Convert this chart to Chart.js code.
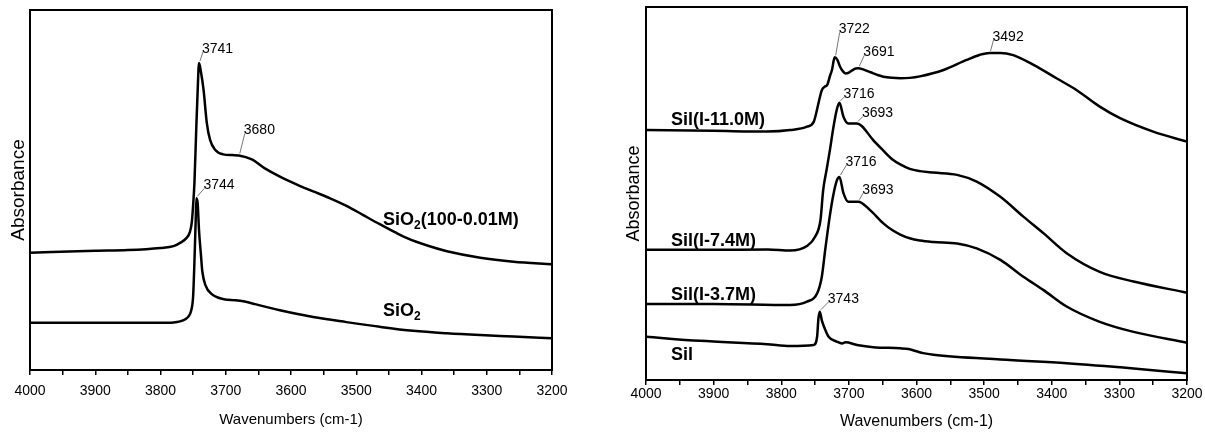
<!DOCTYPE html>
<html>
<head>
<meta charset="utf-8">
<script src="https://cdn.jsdelivr.net/npm/chart.js@4.4.0/dist/chart.umd.min.js"></script>
<style>
  html, body { margin: 0; padding: 0; background: #fff; }
  #wrap { position: relative; width: 1205px; height: 437px; }
  canvas { position: absolute; top: 0; }
  #leftChart { left: 0; }
  #rightChart { left: 600px; }
</style>
</head>
<body>
<div id="wrap">
  <canvas id="leftChart" width="600" height="437"></canvas>
  <canvas id="rightChart" width="605" height="437"></canvas>
</div>
<script>
/* ================= DATA (left panel) ================= */

const sio2ModWn = [4000, 3900, 3850, 3800, 3780, 3770, 3760, 3755, 3752, 3750, 3748, 3745, 3743, 3741, 3738, 3734, 3729, 3724, 3716, 3704, 3690, 3680, 3660, 3640, 3617, 3586, 3566, 3540, 3515, 3490, 3464, 3440, 3423, 3390, 3361, 3310, 3259, 3200];
const sio2ModAbs = [0.326, 0.331, 0.333, 0.339, 0.344, 0.353, 0.367, 0.383, 0.411, 0.458, 0.519, 0.681, 0.778, 0.853, 0.828, 0.778, 0.686, 0.639, 0.611, 0.599, 0.597, 0.596, 0.585, 0.560, 0.537, 0.511, 0.496, 0.477, 0.456, 0.431, 0.405, 0.382, 0.367, 0.345, 0.330, 0.312, 0.301, 0.294];

const sio2Wn = [4000, 3900, 3800, 3780, 3770, 3762, 3757, 3753, 3750, 3748, 3746, 3745, 3743, 3741, 3738, 3736, 3731, 3721, 3710, 3701, 3685, 3671, 3655, 3640, 3617, 3586, 3566, 3515, 3464, 3413, 3361, 3310, 3259, 3200];
const sio2Abs = [0.131, 0.131, 0.131, 0.132, 0.135, 0.141, 0.149, 0.165, 0.205, 0.300, 0.420, 0.477, 0.462, 0.389, 0.319, 0.275, 0.235, 0.210, 0.200, 0.196, 0.194, 0.190, 0.183, 0.176, 0.166, 0.154, 0.147, 0.133, 0.120, 0.109, 0.102, 0.097, 0.093, 0.088];

const leftLabelText = [["SiO", "2", "(100-0.01M)"], ["SiO", "2"]];
const leftLabelWn = [3459, 3459];
const leftLabelAbs = [0.417, 0.164];

const leftPeakWn = [3741, 3680, 3744];
const leftPeakSeries = [0, 0, 1];

/* ================= DATA (right panel) ================= */

const sil11Wn = [4000, 3900, 3821, 3787, 3762, 3752, 3748, 3745, 3740, 3736, 3732, 3728, 3725, 3721, 3717, 3713, 3709, 3705, 3700, 3696, 3690, 3686, 3678, 3668, 3658, 3649, 3636, 3624, 3610, 3595, 3560, 3526, 3506, 3492, 3476, 3457, 3427, 3393, 3363, 3329, 3299, 3250, 3200];
const sil11Abs = [0.670, 0.668, 0.666, 0.670, 0.679, 0.692, 0.718, 0.742, 0.777, 0.786, 0.791, 0.815, 0.831, 0.865, 0.858, 0.840, 0.828, 0.822, 0.824, 0.829, 0.835, 0.836, 0.832, 0.825, 0.818, 0.813, 0.810, 0.809, 0.810, 0.814, 0.831, 0.858, 0.872, 0.877, 0.877, 0.871, 0.845, 0.809, 0.777, 0.733, 0.702, 0.666, 0.639];

const sil74Wn = [4000, 3900, 3820, 3787, 3762, 3750, 3742, 3738, 3733, 3728, 3723, 3718, 3714, 3708, 3701, 3688, 3681, 3664, 3649, 3636, 3624, 3610, 3595, 3575, 3540, 3511, 3476, 3442, 3412, 3378, 3329, 3279, 3200];
const sil74Abs = [0.349, 0.349, 0.350, 0.347, 0.359, 0.384, 0.429, 0.509, 0.563, 0.617, 0.676, 0.724, 0.743, 0.706, 0.688, 0.688, 0.681, 0.643, 0.615, 0.592, 0.578, 0.566, 0.560, 0.556, 0.550, 0.532, 0.491, 0.438, 0.393, 0.340, 0.290, 0.264, 0.234];

const sil37Wn = [4000, 3900, 3787, 3762, 3747, 3740, 3735, 3728, 3723, 3718, 3714, 3708, 3701, 3686, 3669, 3649, 3636, 3624, 3610, 3595, 3575, 3540, 3511, 3476, 3442, 3412, 3378, 3329, 3279, 3200];
const sil37Abs = [0.204, 0.204, 0.201, 0.210, 0.232, 0.277, 0.349, 0.442, 0.496, 0.534, 0.544, 0.501, 0.478, 0.478, 0.456, 0.420, 0.402, 0.390, 0.380, 0.374, 0.370, 0.366, 0.353, 0.322, 0.277, 0.241, 0.197, 0.156, 0.129, 0.100];

const silWn = [4000, 3920, 3821, 3787, 3752, 3747, 3745, 3743, 3740, 3735, 3730, 3718, 3710, 3705, 3688, 3664, 3624, 3612, 3600, 3590, 3575, 3476, 3378, 3279, 3200];
const silAbs = [0.116, 0.105, 0.096, 0.091, 0.094, 0.116, 0.165, 0.183, 0.160, 0.135, 0.116, 0.103, 0.098, 0.101, 0.094, 0.088, 0.085, 0.083, 0.077, 0.072, 0.068, 0.055, 0.045, 0.031, 0.018];

const rightLabelText = [["Sil(I-11.0M)"], ["Sil(I-7.4M)"], ["Sil(I-3.7M)"], ["Sil"]];
const rightLabelWn = [3963, 3963, 3963, 3963];
const rightLabelAbs = [0.697, 0.373, 0.229, 0.066];

const rightPeakWn = [3722, 3691, 3492, 3716, 3693, 3716, 3693, 3743];
const rightPeakSeries = [0, 0, 0, 1, 1, 2, 2, 3];

/* ================= STYLE ================= */

const FONT = '"Liberation Sans", Arial, sans-serif';
Chart.defaults.font.family = FONT;
Chart.defaults.color = "#000";

// offset of each peak label from its peak (px)
const leftPeakOffsets = [[4, -11], [6, -22], [8, -10]];
const rightPeakOffsets = [[5, -25], [6, -13], [4, -13], [5, -6], [6, -7], [7, -12], [5, -9], [9, -10]];

function toPoints(wn, abs) {
    return wn.map((w, i) => ({ x: w, y: abs[i] }));
}

// point of a series nearest to a given wavenumber (highest one when several are close)
function pickPeak(pts, wn) {
    const near = pts.filter(p => Math.abs(p.x - wn) <= 5);
    if (near.length) return near.reduce((a, b) => (b.y > a.y ? b : a));
    return pts.reduce((a, b) => (Math.abs(b.x - wn) < Math.abs(a.x - wn) ? b : a));
}

/* ================= PLUGINS ================= */

const frameBox = {
    id: "frameBox",
    afterDatasetsDraw(chart) {
        const { ctx, chartArea: a } = chart;
        ctx.save();
        ctx.strokeStyle = "#000";
        ctx.lineWidth = 2;
        ctx.strokeRect(a.left, a.top, a.right - a.left, a.bottom - a.top);
        ctx.restore();
    }
};

const peakNotes = {
    id: "peakNotes",
    afterDatasetsDraw(chart, args, opts) {
        const { ctx, scales: { x, y } } = chart;
        ctx.save();
        ctx.font = "14px " + FONT;
        ctx.fillStyle = "#000";
        ctx.strokeStyle = "#555";
        ctx.lineWidth = 0.8;
        ctx.textAlign = "left";
        ctx.textBaseline = "alphabetic";
        opts.wn.forEach((wn, i) => {
            const p = pickPeak(chart.data.datasets[opts.series[i]].data, wn);
            const px = x.getPixelForValue(p.x);
            const py = y.getPixelForValue(p.y);
            const [dx, dy] = opts.offsets[i];
            ctx.beginPath();
            ctx.moveTo(px + 1, py - 2);
            ctx.lineTo(px + dx, py + dy);
            ctx.stroke();
            ctx.fillText(String(wn), px + dx - 1, py + dy + 1);
        });
        ctx.restore();
    }
};

const seriesNames = {
    id: "seriesNames",
    afterDatasetsDraw(chart, args, opts) {
        const { ctx, scales: { x, y } } = chart;
        ctx.save();
        ctx.fillStyle = "#000";
        ctx.textAlign = "left";
        ctx.textBaseline = "middle";
        opts.text.forEach((parts, i) => {
            let px = x.getPixelForValue(opts.wn[i]);
            const py = y.getPixelForValue(opts.abs[i]);
            parts.forEach((part, k) => {
                const sub = k % 2 === 1;
                ctx.font = (sub ? "bold 12px " : "bold 18px ") + FONT;
                ctx.fillText(part, px, sub ? py + 6 : py);
                px += ctx.measureText(part).width;
            });
        });
        ctx.restore();
    }
};

/* ================= CHARTS ================= */

function lineSet(wn, abs) {
    return {
        data: toPoints(wn, abs),
        borderColor: "#000",
        borderWidth: 2.5,
        pointRadius: 0,
        fill: false,
        cubicInterpolationMode: "monotone"
    };
}

function makeChart(id, sets, o) {
    return new Chart(document.getElementById(id), {
        type: "line",
        data: { datasets: sets },
        plugins: [frameBox, peakNotes, seriesNames],
        options: {
            responsive: false,
            animation: false,
            devicePixelRatio: 1,
            layout: { padding: { left: 0, right: o.padRight, top: o.padTop, bottom: 0 } },
            scales: {
                x: {
                    type: "linear",
                    min: 3200,
                    max: 4000,
                    reverse: true,
                    ticks: {
                        stepSize: 50,
                        autoSkip: false,
                        maxRotation: 0,
                        padding: o.tickPad,
                        font: { size: 14 },
                        callback: v => (v % 100 === 0 ? String(v) : "")
                    },
                    grid: { drawOnChartArea: false, drawTicks: true, tickLength: 5, color: "#000", lineWidth: 1.5 },
                    border: { display: false },
                    title: {
                        display: true,
                        text: "Wavenumbers (cm-1)",
                        font: { size: o.xTitleSize },
                        padding: { top: 0, bottom: o.xTitlePad }
                    },
                    afterFit: s => { s.height = o.xHeight; }
                },
                y: {
                    min: 0,
                    max: 1,
                    ticks: { display: false },
                    grid: { display: false },
                    border: { display: false },
                    title: {
                        display: true,
                        text: "Absorbance",
                        font: { size: o.yTitleSize },
                        padding: { top: o.yTitlePad, bottom: 0 }
                    },
                    afterFit: s => { s.width = o.yWidth; }
                }
            },
            plugins: {
                legend: { display: false },
                tooltip: { enabled: false },
                peakNotes: { wn: o.peakWn, series: o.peakSeries, offsets: o.peakOffsets },
                seriesNames: { text: o.labelText, wn: o.labelWn, abs: o.labelAbs }
            }
        }
    });
}

makeChart("leftChart", [
    lineSet(sio2ModWn, sio2ModAbs),
    lineSet(sio2Wn, sio2Abs)
], {
    padRight: 48, padTop: 10, tickPad: 8, xTitleSize: 15, xTitlePad: 8, xHeight: 67,
    yTitleSize: 19, yTitlePad: 7, yWidth: 30,
    peakWn: leftPeakWn, peakSeries: leftPeakSeries, peakOffsets: leftPeakOffsets,
    labelText: leftLabelText, labelWn: leftLabelWn, labelAbs: leftLabelAbs
});

makeChart("rightChart", [
    lineSet(sil11Wn, sil11Abs),
    lineSet(sil74Wn, sil74Abs),
    lineSet(sil37Wn, sil37Abs),
    lineSet(silWn, silAbs)
], {
    padRight: 18, padTop: 7, tickPad: 1, xTitleSize: 16, xTitlePad: 6, xHeight: 57,
    yTitleSize: 18, yTitlePad: 23, yWidth: 46,
    peakWn: rightPeakWn, peakSeries: rightPeakSeries, peakOffsets: rightPeakOffsets,
    labelText: rightLabelText, labelWn: rightLabelWn, labelAbs: rightLabelAbs
});
</script>
</body>
</html>
